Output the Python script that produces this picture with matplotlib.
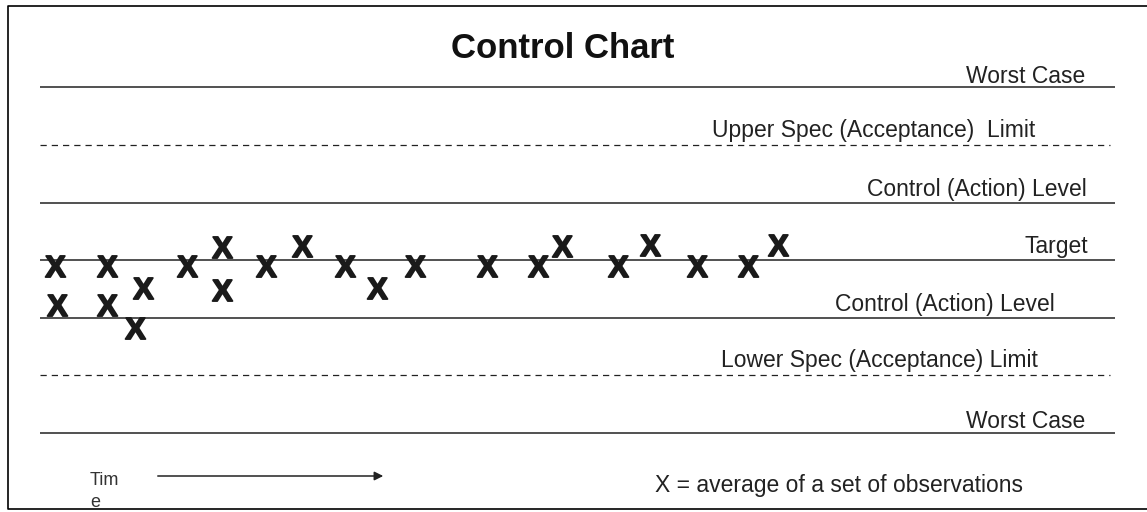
import matplotlib
matplotlib.use('Agg')
import matplotlib.pyplot as plt

plt.rcParams['font.family'] = ['Liberation Sans', 'DejaVu Sans']
plt.rcParams['mathtext.fontset'] = 'custom'
plt.rcParams['mathtext.bf'] = 'Liberation Sans:bold'

# levels relative to target (0)
level_values = [3, 2, 1, 0, -1, -2, -3]
level_labels = ['Worst Case', 'Upper Spec (Acceptance)  Limit', 'Control (Action) Level',
                'Target', 'Control (Action) Level', 'Lower Spec (Acceptance) Limit', 'Worst Case']
level_dashed = [False, True, False, False, False, True, False]

# observation averages (time position, value)
obs_time = [55, 57, 107, 107, 135, 143, 187, 222, 222, 266, 302, 345, 377,
            415, 487, 538, 562, 618, 650, 697, 748, 778]
obs_value = [-0.1, -0.78, -0.1, -0.78, -1.18, -0.49, -0.1, 0.22, -0.52, -0.1, 0.24, -0.1, -0.48,
             -0.1, -0.1, -0.1, 0.25, -0.1, 0.26, -0.1, -0.1, 0.26]

# pixel-like layout helpers
unit = 57.5      # px per level step
target_px = 260
def yv(py):
    return (target_px - py) / unit

fig = plt.figure(figsize=(11.47, 5.12), dpi=100)
ax = fig.add_axes([0, 0, 1, 1])
ax.set_xlim(0, 1147)
ax.set_ylim(yv(512), yv(0))
ax.axis('off')

# outer frame (open on the right)
ax.plot([1147, 8, 8, 1147], [yv(6), yv(6), yv(509), yv(509)], color='black', lw=1.2)

# label right edges / baseline offsets (px)
label_right = [1085, 1035, 1087, 1088, 1055, 1038, 1085]
label_base_off = [-4, -8, -6, -7, -6, -8, -4]

for v, lab, dashed, xr, off in zip(level_values, level_labels, level_dashed, label_right, label_base_off):
    if dashed:
        ax.hlines(v, 40, 1110, colors='#222222', lw=0.9, linestyles=(0, (5, 4)))
    else:
        ax.hlines(v, 40, 1115, colors='#222222', lw=1.1)
    ax.text(xr, v - off / unit, lab, ha='right', va='baseline', fontsize=16.5, color='#222222')

ax.scatter(obs_time, obs_value, marker=r'$\mathbf{X}$', s=230, color='#1a1a1a',
           linewidths=1.3, edgecolors='#1a1a1a', zorder=3)

ax.text(563, yv(58), 'Control Chart', ha='center', va='baseline', fontsize=25,
        fontweight='bold', color='#111111')

# time arrow
ax.annotate('', xy=(386, yv(476)), xytext=(155, yv(476)),
            arrowprops=dict(arrowstyle='-|>', lw=1.1, color='#222222', mutation_scale=13))
ax.text(90, yv(485), 'Tim', ha='left', va='baseline', fontsize=13, color='#333333')
ax.text(90, yv(507), 'e', ha='left', va='baseline', fontsize=13, color='#333333')

ax.text(655, yv(492), 'X = average of a set of observations', ha='left', va='baseline',
        fontsize=16.5, color='#222222')

fig.savefig('out.png', dpi=100)
